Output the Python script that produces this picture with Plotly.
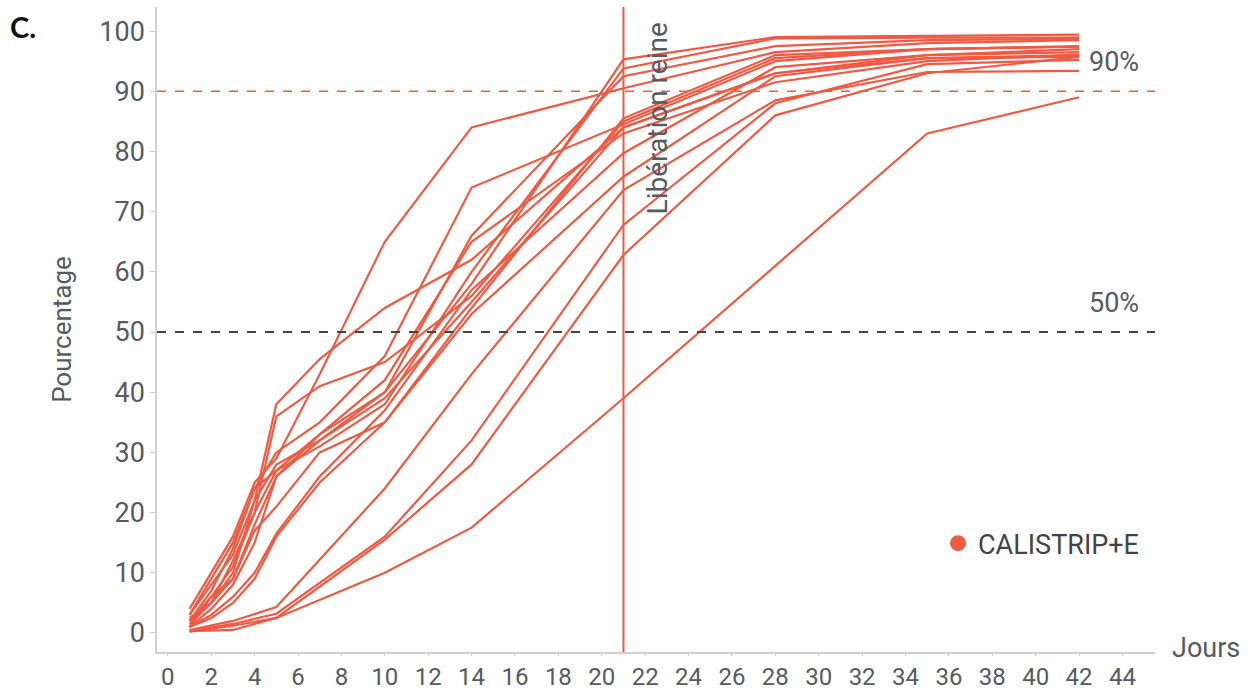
import plotly.graph_objects as go

jours = [1, 2, 3, 4, 5, 7, 10, 14, 21, 28, 35, 42]

# One list per hive/colony (percent), None = not measured that day
ruche_a = [3, 8, 13, 22, 38, 45.5, 54, 62, 84, 93, 96, 97]
ruche_b = [2, 5, 12, 20, 36, 41, 45, 56, 85, 95.5, 97, 97.5]
ruche_c = [4, 10, 16, 25, 29, 43, 65, 84, 90.5, 96.5, 98, 98.5]
ruche_d = [1, 6, 11, 20, 27, 33, 40, 58, 95.3, 99, 99.2, 99.4]
ruche_e = [2, 7, 14, 24, 27, 31, 38, 60, 93.8, 98.8, 98.9, 98.9]
ruche_f = [1.5, 5, 9, 18, 26, 32, 40, 66, 92.5, 97.5, 98.5, 98.7]
ruche_g = [3, 9, 15, 24, 30, 35, 46, 74, 84.5, 95, 97, 97.4]
ruche_h = [2.5, 5, 10, 22, 28, 32, 39, 55, 84, 93, 95.5, 96]
ruche_i = [1, 4, 8, 15, 26, 33, 42, 65, 83, 91.5, 95, 96.1]
ruche_j = [2, 6, 9, 17, 21, 30, 35, 54, 85.5, 96, 97, 97.4]
ruche_k = [1, 3, 6, 10, 16.5, 26, 37, 57, 79.7, 94, 96, 96.5]
ruche_l = [1, 2.5, 5, 9, 16, 25, 35, 53, 75.8, 92.5, 95.5, 95.7]
ruche_m = [0.5, None, 2, None, 4.3, None, 24, 43, 73.6, 88.5, 93.2, 93.4]
ruche_n = [0.3, None, 1.5, None, 3.2, None, 16, 32, 67.8, 88, 94.5, 95.2]
ruche_o = [0.2, None, 1.2, None, 2.5, None, 15.5, 28, 62.8, 86, 93, 95.7]
ruche_p = [0.3, None, 0.5, None, 2.5, None, 10, 17.5, 39, None, 83, 89]

series = [ruche_a, ruche_b, ruche_c, ruche_d, ruche_e, ruche_f, ruche_g, ruche_h,
          ruche_i, ruche_j, ruche_k, ruche_l, ruche_m, ruche_n, ruche_o, ruche_p]

y_ticks = list(range(0, 101, 10))
x_ticks = list(range(0, 45, 2))
seuil_90 = 90
seuil_50 = 50
jour_liberation = 21

RED = "#EF5A43"
GREY = "#555b61"
FONT = "Roboto"

fig = go.Figure()
for s in series:
    fig.add_trace(go.Scatter(x=jours, y=s, mode="lines", connectgaps=True,
                             line=dict(color=RED, width=2.2), showlegend=False,
                             hoverinfo="skip"))

fig.add_trace(go.Scatter(x=[None], y=[None], mode="markers", name="CALISTRIP+E",
                         marker=dict(color=RED, size=22, symbol="circle")))

fig.add_hline(y=seuil_90, line=dict(color=RED, width=1.5, dash="dash"))
fig.add_hline(y=seuil_50, line=dict(color="#444", width=2, dash="dash"))
fig.add_vline(x=jour_liberation, line=dict(color=RED, width=2))

fig.add_annotation(x=jour_liberation + 0.7, y=101.8, xref="x", yref="y",
                   text="Libération reine", textangle=-90, showarrow=False,
                   xanchor="left", yanchor="top", font=dict(family=FONT, size=28, color=GREY))
fig.add_annotation(x=43.6, y=94.9, text="90%", showarrow=False,
                   font=dict(family=FONT, size=27, color=GREY))
fig.add_annotation(x=43.6, y=54.8, text="50%", showarrow=False,
                   font=dict(family=FONT, size=27, color=GREY))
fig.add_annotation(x=1.015, y=0.006, xref="paper", yref="paper", text="Jours",
                   showarrow=False, xanchor="left", yanchor="middle",
                   font=dict(family=FONT, size=27, color=GREY))
fig.add_annotation(x=-0.149, y=1.0, xref="paper", yref="paper", text="<b>C.</b>",
                   showarrow=False, xanchor="left", yanchor="top",
                   font=dict(family="Lato", size=29, color="#111"))

fig.update_layout(
    width=1249, height=693,
    margin=dict(l=157, r=94, t=7, b=41),
    plot_bgcolor="white", paper_bgcolor="white",
    font=dict(family=FONT, size=27, color=GREY),
    legend=dict(x=0.7826, y=0.168, xanchor="left", yanchor="middle",
                font=dict(family=FONT, size=27, color="#444"),
                bgcolor="rgba(0,0,0,0)", itemsizing="trace"),
    xaxis=dict(range=[-0.5, 45.5], tickvals=x_ticks, showgrid=False, zeroline=False,
               showline=True, linecolor="#d0d0d0", linewidth=1.5, automargin=False,
               ticks="outside", ticklen=2, tickcolor="#d0d0d0",
               tickfont=dict(family=FONT, size=24, color=GREY)),
    yaxis=dict(range=[-3.16, 104], tickvals=y_ticks, showgrid=False, zeroline=False,
               showline=True, linecolor="#d0d0d0", linewidth=1.5, automargin=False,
               ticks="outside", ticklen=5, tickcolor="#d0d0d0",
               tickfont=dict(family=FONT, size=27, color=GREY),
               title=dict(text="Pourcentage", standoff=20,
                          font=dict(family=FONT, size=26, color=GREY))),
)

fig.write_html("out.html")
